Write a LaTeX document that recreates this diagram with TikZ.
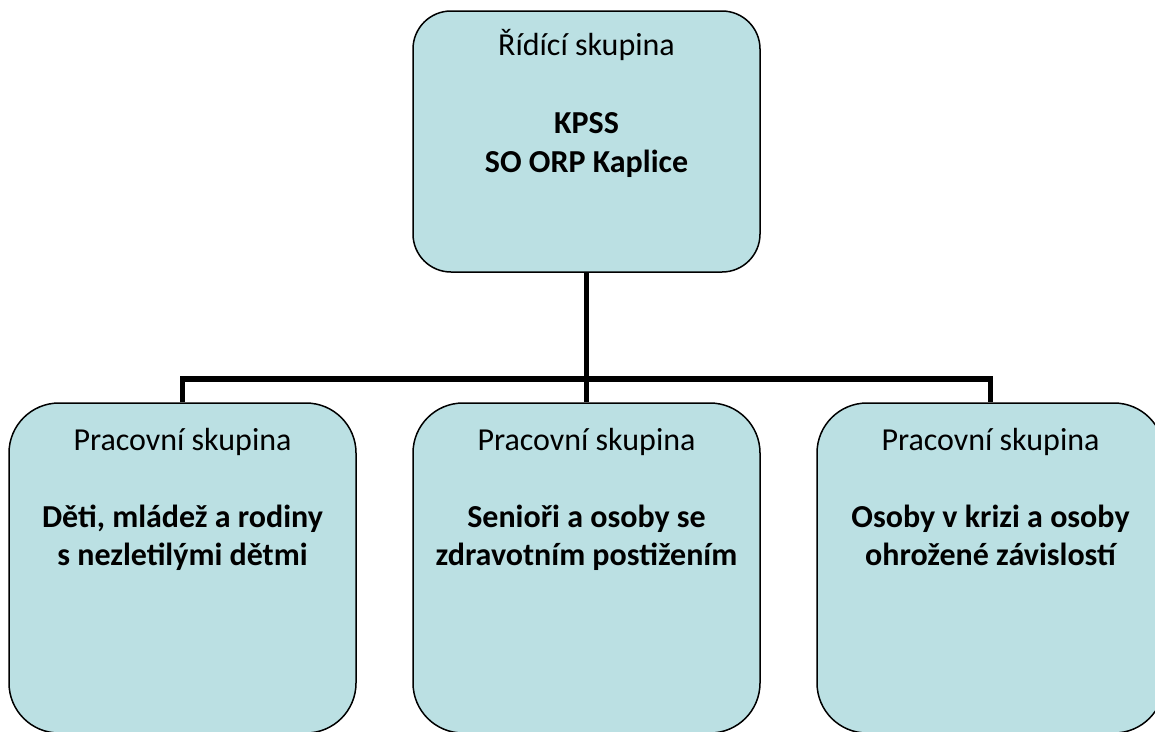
\documentclass[tikz,border=0pt]{standalone}
\usepackage{fontspec}
\setmainfont{Carlito}
\definecolor{boxfill}{RGB}{187,224,227}
\begin{document}
\begin{tikzpicture}[x=1pt,y=-1pt,
  grpbox/.style={draw=black,line width=1.5pt,fill=boxfill,rectangle,inner sep=0pt,minimum width=347pt},
  topbox/.style={grpbox,minimum height=261pt,rounded corners=38pt},
  lowbox/.style={grpbox,minimum height=330pt,rounded corners=50pt},
  conn/.style={draw=black,line width=5.5pt},
  lbl/.style={anchor=base,inner sep=0pt,font=\fontsize{32}{38}\selectfont},
  blbl/.style={lbl,font=\fontsize{32}{38}\selectfont\bfseries}]
\useasboundingbox (0,0) rectangle (1155,731);
\fill[white] (0,0) rectangle (1155,731);
% boxes
\node[topbox] (top) at (586.5,141.5) {};
\node[lowbox] (left) at (182.5,568) {};
\node[lowbox] (mid) at (586.5,568) {};
\node[lowbox] (right) at (990.5,568) {};
% connectors
\coordinate (hb) at (586.5,379);
\draw[conn] (top.south) -- (mid.north);
\draw[conn] (left.north) |- (hb) -| (right.north);
% texts
\node[lbl] (t1) at (586.5,55) {Řídící skupina};
\node[blbl] (t2) at (586.5,133) {KPSS};
\node[blbl] (t3) at (586.5,172) {SO ORP Kaplice};
\node[lbl] (l1) at (182.5,450) {Pracovní skupina};
\node[blbl] (l2) at (182.5,527) {Děti, mládež a rodiny};
\node[blbl] (l3) at (182.5,565) {s nezletilými dětmi};
\node[lbl] (m1) at (586.5,450) {Pracovní skupina};
\node[blbl] (m2) at (586.5,527) {Senioři a osoby se};
\node[blbl] (m3) at (586.5,565) {zdravotním postižením};
\node[lbl] (r1) at (990.5,450) {Pracovní skupina};
\node[blbl] (r2) at (990.5,527) {Osoby v krizi a osoby};
\node[blbl] (r3) at (990.5,565) {ohrožené závislostí};
\end{tikzpicture}
\end{document}
